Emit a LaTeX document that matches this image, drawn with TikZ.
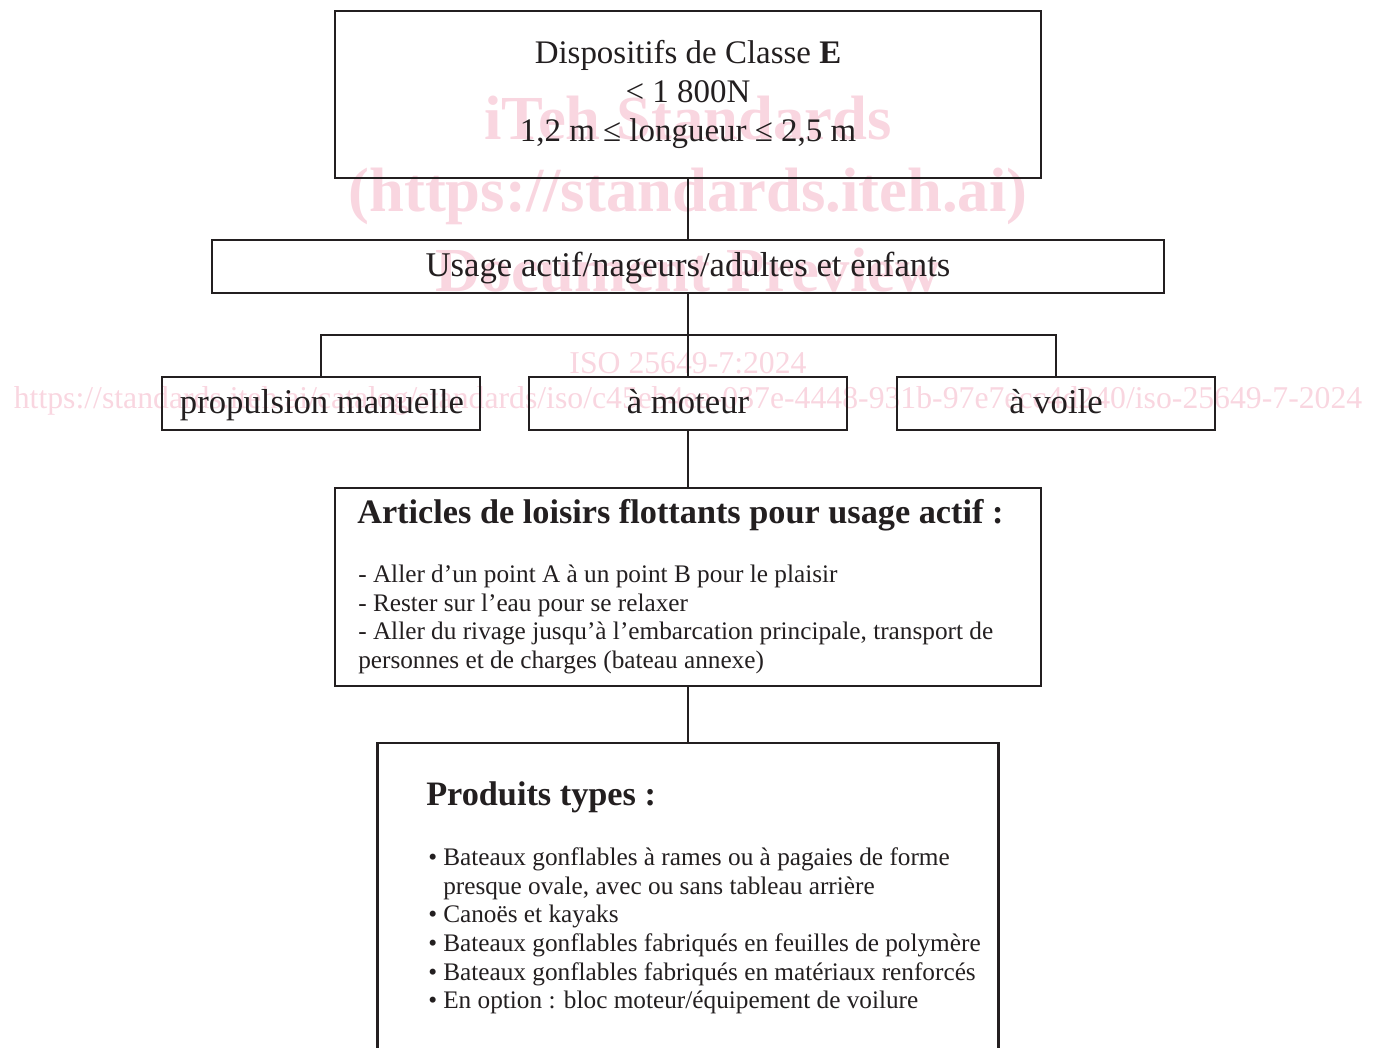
\documentclass[tikz,border=0pt]{standalone}
\usepackage{fontspec}
\setmainfont{Liberation Serif}
\usetikzlibrary{calc}
\definecolor{wm}{RGB}{249,214,224}
\definecolor{ink}{RGB}{35,31,32}
\begin{document}
\begin{tikzpicture}[x=0.75pt,y=-0.75pt,
 box/.style={draw=ink,line width=2.1pt,inner sep=0pt},
 conn/.style={draw=ink,line width=2.1pt},
 main/.style={font=\fontsize{26}{29.25}\selectfont,text=ink},
 lbl/.style={main,inner sep=0pt,anchor=base},
 ttl/.style={font=\fontsize{25.7}{29.25}\selectfont\bfseries,text=ink,inner sep=0pt,anchor=base west},
 item/.style={font=\fontsize{18.95}{21.75}\selectfont,text=ink,inner sep=0pt,anchor=base west},
 wmb/.style={font=\fontsize{47}{50}\selectfont\bfseries,text=wm},
 wmr/.style={font=\fontsize{23.8}{26}\selectfont,text=wm}]
\clip (0,0) rectangle (1381,1048);
\useasboundingbox (0,0) rectangle (1381,1048);
% watermark
\node[wmb] (w1) at (688,118) {iTeh Standards};
\node[wmb] (w2) at (688,196) {(https://standards.iteh.ai)};
\node[wmb] (w3) at (688,270) {Document Preview};
\node[wmr] (w4) at (688,363) {ISO 25649-7:2024};
\node[wmr] (w5) at (688,401) {https://standards.iteh.ai/catalog/standards/iso/c45eb4ea-037e-4448-931b-97e7ecc4d240/iso-25649-7-2024};
% boxes
\node[box,font=\fontsize{24.7}{29.25}\selectfont,text=ink,minimum width=529.5pt,minimum height=125.25pt,align=center] (b1) at (688,94.5)
 {Dispositifs de Classe \textbf{E}\\ < 1 800N\\ 1,2 m ≤ longueur ≤ 2,5 m};
\node[box,minimum width=714pt,minimum height=39.75pt] (b2) at (688,266.5) {};
\node[box,minimum width=238.5pt,minimum height=39.75pt] (b3a) at (321,403.5) {};
\node[box,minimum width=238.5pt,minimum height=39.75pt] (b3b) at (688,403.5) {};
\node[box,minimum width=238.5pt,minimum height=39.75pt] (b3c) at (1056,403.5) {};
\node[box,minimum width=529.5pt,minimum height=148.5pt] (b4) at (688,587) {};
\node[box,minimum width=465.75pt,minimum height=240pt] (b5) at (688,903) {};
% box labels
\node[lbl] (l2) at (688,277) {Usage actif/nageurs/adultes et enfants};
\node[lbl] (l3a) at (322,413) {propulsion manuelle};
\node[lbl] (l3b) at (688,413) {à moteur};
\node[lbl] (l3c) at (1056,413) {à voile};
% connectors
\coordinate (j) at ($(b2.south)!0.5!(b3b.north)$);
\draw[conn] (b1.south) -- (b2.north);
\draw[conn] (b2.south) -- (b3b.north);
\draw[conn] (b3a.north) |- (j) -| (b3c.north);
\draw[conn] (b3b.south) -- (b4.north);
\draw[conn] (b4.south) -- (b5.north);
% box 4 text
\node[ttl] (t4) at (357,523) {Articles de loisirs flottants pour usage actif :};
\node[item] (i1) at (358,582) {- Aller d’un point A à un point B pour le plaisir};
\node[item] (i2) at (358,611) {- Rester sur l’eau pour se relaxer};
\node[item] (i3) at (358,639) {- Aller du rivage jusqu’à l’embarcation principale, transport de};
\node[item] (i4) at (358,668) {personnes et de charges (bateau annexe)};
% box 5 text
\node[ttl] (t5) at (426,805) {Produits types :};
\node[item] (p1) at (428,865) {\makebox[11.25pt][l]{•}Bateaux gonflables à rames ou à pagaies de forme};
\node[item] (p2) at (428,894) {\hspace*{11.25pt}presque ovale, avec ou sans tableau arrière};
\node[item] (p3) at (428,922) {\makebox[11.25pt][l]{•}Canoës et kayaks};
\node[item] (p4) at (428,951) {\makebox[11.25pt][l]{•}Bateaux gonflables fabriqués en feuilles de polymère};
\node[item] (p5) at (428,980) {\makebox[11.25pt][l]{•}Bateaux gonflables fabriqués en matériaux renforcés};
\node[item] (p6) at (428,1008) {\makebox[11.25pt][l]{•}En option : bloc moteur/équipement de voilure};
\end{tikzpicture}
\end{document}
